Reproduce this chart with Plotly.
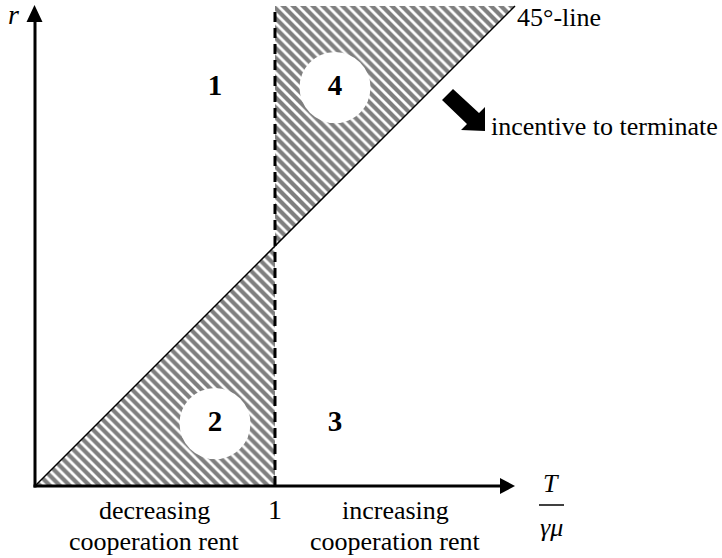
import plotly.graph_objects as go

# ---- data ----
diag_x = [0, 2]          # 45-degree line
diag_y = [0, 2]
threshold = 1            # T/(gamma mu) = 1
y_top = 2
region_labels = ["1", "2", "3", "4"]
region_x = [0.75, 0.75, 1.25, 1.25]
region_y = [1.66, 0.26, 0.26, 1.66]
circled = [False, True, False, True]

# ---- pixel helpers (layout only) ----
OX, OY, S = 35, 486, 240
def dx(p):
    return (p - OX) / S
def dy(p):
    return (OY - p) / S

FONT = "Liberation Serif"
fig = go.Figure()

# hatched regions
lower_x = [diag_x[0], threshold, threshold, diag_x[0]]
lower_y = [0, 0, threshold, 0]
upper_x = [threshold, threshold, diag_x[1], threshold]
upper_y = [threshold, y_top, y_top, threshold]
pat = dict(shape="\\", size=7, solidity=0.6, fgcolor="black", bgcolor="white")
for xs, ys in [(lower_x, lower_y), (upper_x, upper_y)]:
    fig.add_trace(go.Scatter(x=xs, y=ys, fill="toself", mode="lines",
                             line=dict(width=0, color="rgba(0,0,0,0)"),
                             fillcolor="white", fillpattern=pat,
                             hoverinfo="skip", showlegend=False))

# 45-degree line
fig.add_trace(go.Scatter(x=diag_x, y=diag_y, mode="lines",
                         line=dict(color="black", width=1.5),
                         hoverinfo="skip", showlegend=False))
# dashed threshold
fig.add_trace(go.Scatter(x=[threshold, threshold], y=[0, y_top], mode="lines",
                         line=dict(color="black", width=3, dash="10px,6px"),
                         hoverinfo="skip", showlegend=False))

# white circles
cx = [x for x, c in zip(region_x, circled) if c]
cy = [y for y, c in zip(region_y, circled) if c]
fig.add_trace(go.Scatter(x=cx, y=cy, mode="markers",
                         marker=dict(size=71, color="white", line=dict(width=0)),
                         hoverinfo="skip", showlegend=False))
# region numbers
fig.add_trace(go.Scatter(x=region_x, y=region_y, mode="text", text=[f"<b>{t}</b>" for t in region_labels],
                         textfont=dict(family=FONT, size=29, color="black"),
                         textposition="middle center",
                         hoverinfo="skip", showlegend=False))

# axes lines
fig.add_shape(type="line", x0=0, y0=dy(OY + 1.5), x1=0, y1=dy(20), line=dict(color="black", width=3))
fig.add_shape(type="line", x0=dx(OX - 1.5), y0=0, x1=dx(502), y1=0, line=dict(color="black", width=3))
# arrowheads
fig.add_shape(type="path",
              path=f"M {dx(26.5)} {dy(22)} L {dx(34.5)} {dy(5)} L {dx(42.5)} {dy(22)} Z",
              fillcolor="black", line=dict(width=0))
fig.add_shape(type="path",
              path=f"M {dx(500)} {dy(478)} L {dx(515)} {dy(486)} L {dx(500)} {dy(494)} Z",
              fillcolor="black", line=dict(width=0))

# thick arrow "incentive to terminate"
pts = [(442, 100), (467, 124), (461, 130), (485, 131), (485, 107), (479, 113), (453, 89)]
path = "M " + " L ".join(f"{dx(a)} {dy(b)}" for a, b in pts) + " Z"
fig.add_shape(type="path", path=path, fillcolor="black", line=dict(width=0))

# fraction bar
fig.add_shape(type="line", x0=dx(539), y0=dy(505), x1=dx(564), y1=dy(505),
              line=dict(color="black", width=1.5))

def txt(x, y, s, size=26, xanchor="center"):
    fig.add_annotation(x=x, y=y, text=s, showarrow=False, xanchor=xanchor, yanchor="middle",
                       font=dict(family=FONT, size=size, color="black"))

txt(dx(13), dy(14), "<i>r</i>", 28)
txt(dx(551), dy(483), "<i>T</i>", 26)
txt(dx(551), dy(527), "<i>γμ</i>", 26)
txt(dx(515), dy(17), "45°-line", 26, xanchor="left")
txt(dx(489), dy(126), "incentive to terminate", 26, xanchor="left")
txt(threshold, dy(509), "1", 28)
txt(dx(154), dy(510), "decreasing", 26)
txt(dx(154), dy(541), "cooperation rent", 26)
txt(dx(395), dy(510), "increasing", 26)
txt(dx(395), dy(541), "cooperation rent", 26)

fig.update_layout(
    width=722, height=558,
    margin=dict(l=0, r=0, t=0, b=0),
    plot_bgcolor="white", paper_bgcolor="white",
    xaxis=dict(range=[dx(0), dx(722)], visible=False, fixedrange=True),
    yaxis=dict(range=[dy(558), dy(0)], visible=False, fixedrange=True),
    showlegend=False,
)
fig.write_html("out.html", config={"displayModeBar": False},
               post_script="document.body.style.margin='0';document.body.style.overflow='hidden';")
